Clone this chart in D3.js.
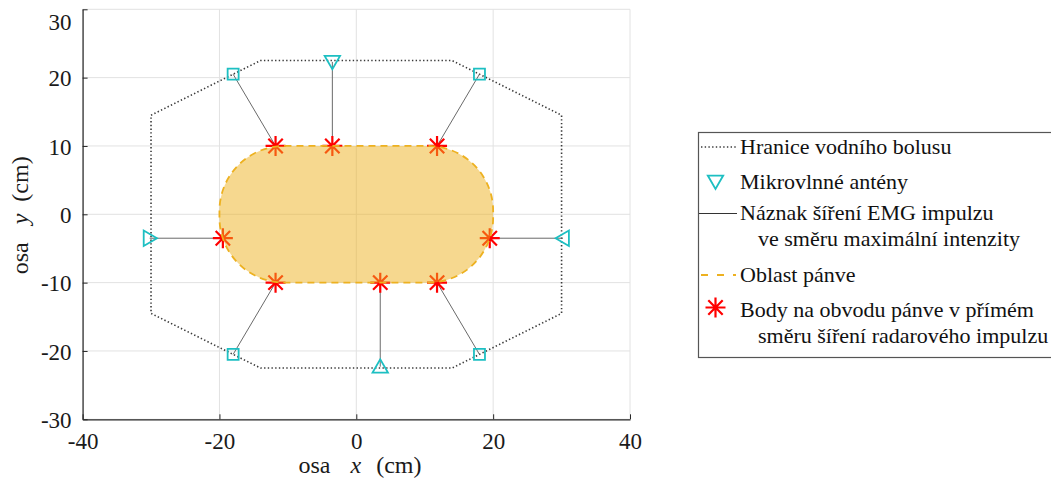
<!DOCTYPE html>
<html><head><meta charset="utf-8">
<script src="https://cdn.jsdelivr.net/npm/d3@7"></script>
<style>
html,body{margin:0;padding:0;background:#fff;}
svg{display:block;font-family:"Liberation Serif","Times New Roman",serif;}
</style></head>
<body>
<svg id="chart" width="1051" height="482"></svg>
<script>
// ---- data ----
const xTicks = [-40, -20, 0, 20, 40];
const yTicks = [-30, -20, -10, 0, 10, 20, 30];
// water bolus boundary (octagon, closed)
const bolusX = [-30, -14, 14, 30, 30, 14, -14, -30, -30];
const bolusY = [14.5, 22.5, 22.5, 14.5, -14.5, -22.5, -22.5, -14.5, 14.5];
// antennas
const antX = [-18, -3.5, 18, 30.2, -30.2, -18, 3.5, 18];
const antY = [20.5, 22.3, 20.5, -3.5, -3.5, -20.5, -22.3, -20.5];
const antType = ["square", "down", "square", "left", "right", "square", "up", "square"];
// points on pelvis perimeter
const starX = [-11.8, -3.5, 11.8, 19.5, -19.5, -11.8, 3.5, 11.8];
const starY = [10, 10, 10, -3.5, -3.5, -10, -10, -10];
// pelvis region (rounded rectangle)
const pelvisX = [-20, 20];
const pelvisY = [-10, 10];
const pelvisCornerRadius = 9.5;
const legendLabels = [
  ["Hranice vodního bolusu"],
  ["Mikrovlnné antény"],
  ["Náznak šíření EMG impulzu", "ve směru maximální intenzity"],
  ["Oblast pánve"],
  ["Body na obvodu pánve v přímém", "směru šíření radarového impulzu"]
];

// ---- drawing ----
const svg = d3.select("#chart");
const L = 82.6, R = 630, T = 9.3, B = 419.3;
const x = d3.scaleLinear().domain([-40, 40]).range([L, R]);
const y = d3.scaleLinear().domain([-30, 30]).range([B, T]);
const cyan = "#1dbfc2", red = "#ff0000", orange = "#EDB120";

// grid
const g = svg.append("g");
g.selectAll(".gx").data(xTicks).enter().append("line")
  .attr("x1", d => x(d)).attr("x2", d => x(d)).attr("y1", T).attr("y2", B)
  .attr("stroke", "#e2e2e2").attr("stroke-width", 1);
g.selectAll(".gy").data(yTicks).enter().append("line")
  .attr("y1", d => y(d)).attr("y2", d => y(d)).attr("x1", L).attr("x2", R)
  .attr("stroke", "#e2e2e2").attr("stroke-width", 1);

// axes
const fmt = d => String(d);
const xAxis = d3.axisBottom(x).tickValues(xTicks).tickSizeInner(-5).tickSizeOuter(0).tickPadding(13).tickFormat(fmt);
const yAxis = d3.axisLeft(y).tickValues(yTicks).tickSizeInner(-5).tickSizeOuter(0).tickPadding(11).tickFormat(fmt);
const gx = svg.append("g").attr("transform", `translate(0,${B})`).call(xAxis);
const gy = svg.append("g").attr("transform", `translate(${L},0)`).call(yAxis);
[gx, gy].forEach(a => {
  a.attr("font-family", "Liberation Serif");
  a.select(".domain").attr("stroke", "#262626").attr("stroke-width", 1.2);
  a.selectAll(".tick line").attr("stroke", "#262626").attr("stroke-width", 1);
  a.selectAll("text").attr("font-family", "Liberation Serif").attr("font-size", 23).attr("fill", "#1a1a1a");
});
gx.selectAll("text").attr("dy", "0.71em");
gy.selectAll("text").attr("dy", "0.35em");
// top label kept inside the figure
gy.selectAll(".tick").filter(d => d === 30).select("text").attr("dy", "0.8em").attr("y", 2);

// axis labels
const xl = svg.append("text").attr("x", 360).attr("y", 473).attr("text-anchor", "middle")
  .attr("font-size", 24).attr("fill", "#1a1a1a");
xl.append("tspan").text("osa");
xl.append("tspan").attr("font-style", "italic").attr("dx", 20).text("x");
xl.append("tspan").attr("dx", 15).text("(cm)");
const yl = svg.append("text").attr("transform", `translate(28,${(T + B) / 2 + 1}) rotate(-90)`).attr("text-anchor", "middle")
  .attr("font-size", 24).attr("fill", "#1a1a1a");
yl.append("tspan").text("osa");
yl.append("tspan").attr("font-style", "italic").attr("dx", 18).text("y");
yl.append("tspan").attr("dx", 12).text("(cm)");

// bolus
const bolus = d3.range(bolusX.length).map(i => [bolusX[i], bolusY[i]]);
svg.append("path").attr("d", d3.line().x(d => x(d[0])).y(d => y(d[1]))(bolus))
  .attr("fill", "none").attr("stroke", "#3a3a3a").attr("stroke-width", 1.6)
  .attr("stroke-dasharray", "1.4,2.3");

// connection lines
svg.selectAll(".conn").data(d3.range(antX.length)).enter().append("line")
  .attr("x1", i => x(antX[i])).attr("y1", i => y(antY[i]))
  .attr("x2", i => x(starX[i])).attr("y2", i => y(starY[i]))
  .attr("stroke", "#6a6a6a").attr("stroke-width", 1);

// marker shape helpers
function markerPath(type, s) {
  const h = s / 2;
  switch (type) {
    case "square": return `M${-h},${-h}H${h}V${h}H${-h}Z`;
    case "down": return `M${-s*0.55},${-h*0.85}L${s*0.55},${-h*0.85}L0,${h*1.05}Z`;
    case "up": return `M${-s*0.55},${h*0.85}L${s*0.55},${h*0.85}L0,${-h*1.05}Z`;
    case "left": return `M${h*0.85},${-s*0.55}L${h*0.85},${s*0.55}L${-h*1.05},0Z`;
    case "right": return `M${-h*0.85},${-s*0.55}L${-h*0.85},${s*0.55}L${h*1.05},0Z`;
  }
}
function starPath(r) {
  const d = r * 0.72;
  return `M${-r},0H${r}M0,${-r}V${r}M${-d},${-d}L${d},${d}M${-d},${d}L${d},${-d}`;
}

// antennas
svg.selectAll(".ant").data(d3.range(antX.length)).enter().append("path")
  .attr("transform", i => `translate(${x(antX[i])},${y(antY[i])})`)
  .attr("d", i => markerPath(antType[i], antType[i] === "square" ? 11 : 14))
  .attr("fill", "none").attr("stroke", cyan).attr("stroke-width", 1.8);

// stars
svg.selectAll(".star").data(d3.range(starX.length)).enter().append("path")
  .attr("transform", i => `translate(${x(starX[i])},${y(starY[i])})`)
  .attr("d", starPath(10))
  .attr("fill", "none").attr("stroke", red).attr("stroke-width", 2.2);

// pelvis region
const rx = x(pelvisCornerRadius) - x(0);
svg.append("rect")
  .attr("x", x(pelvisX[0])).attr("y", y(pelvisY[1]))
  .attr("width", x(pelvisX[1]) - x(pelvisX[0]))
  .attr("height", y(pelvisY[0]) - y(pelvisY[1]))
  .attr("rx", rx).attr("ry", rx)
  .attr("fill", orange).attr("fill-opacity", 0.5)
  .attr("stroke", orange).attr("stroke-width", 1.8).attr("stroke-dasharray", "7,5");

// legend
const lg = svg.append("g");
lg.append("rect").attr("x", 698.5).attr("y", 132.5).attr("width", 360).attr("height", 225)
  .attr("fill", "#fff").attr("stroke", "#555").attr("stroke-width", 1.2);
const lx0 = 701, lx1 = 736, tx = 740, tx2 = 758;
const baselines = [[154], [188.5], [220, 246], [281.5], [316.5, 342.5]];
const iconY = [147, 181.5, 213.5, 275, 307.5];
legendLabels.forEach((lines, k) => {
  lines.forEach((t, j) => {
    lg.append("text").attr("x", j === 0 ? tx : tx2).attr("y", baselines[k][j])
      .attr("font-size", 22).attr("fill", "#111").text(t);
  });
});
lg.append("line").attr("x1", lx0).attr("x2", lx1).attr("y1", iconY[0]).attr("y2", iconY[0])
  .attr("stroke", "#3a3a3a").attr("stroke-width", 1.6).attr("stroke-dasharray", "1.4,2.3");
lg.append("path").attr("transform", `translate(${(lx0 + lx1) / 2 - 3},${iconY[1]})`)
  .attr("d", markerPath("down", 14)).attr("fill", "none").attr("stroke", cyan).attr("stroke-width", 1.8);
lg.append("line").attr("x1", lx0 - 2).attr("x2", lx1 + 1).attr("y1", iconY[2]).attr("y2", iconY[2])
  .attr("stroke", "#333").attr("stroke-width", 1);
lg.append("line").attr("x1", lx0).attr("x2", lx1).attr("y1", iconY[3]).attr("y2", iconY[3])
  .attr("stroke", orange).attr("stroke-width", 1.8).attr("stroke-dasharray", "7,9");
lg.append("path").attr("transform", `translate(${(lx0 + lx1) / 2 - 3},${iconY[4]})`)
  .attr("d", starPath(10)).attr("fill", "none").attr("stroke", red).attr("stroke-width", 2.2);
</script>
</body></html>
